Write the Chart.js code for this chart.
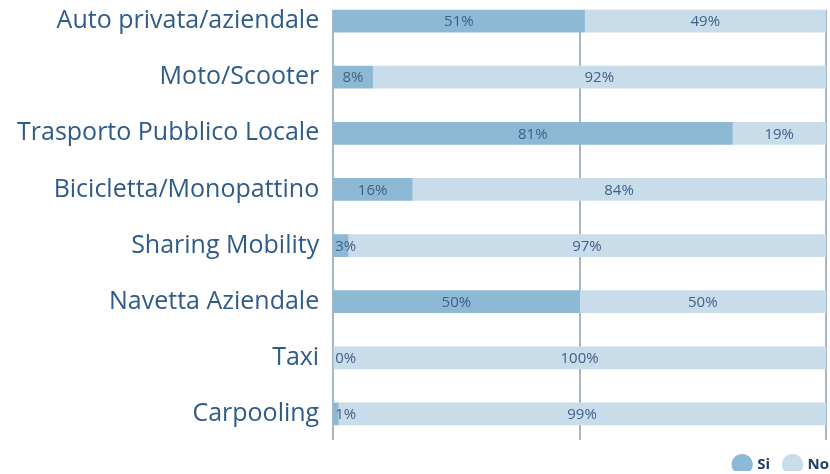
<!DOCTYPE html>
<html>
<head>
<meta charset="utf-8">
<script src="https://cdn.jsdelivr.net/npm/chart.js@4/dist/chart.umd.min.js"></script>
<style>
  html, body { margin: 0; padding: 0; background: #fff; overflow: hidden; }
  #wrap { width: 830px; height: 507px; position: absolute; left: 0; top: -36px; }
</style>
</head>
<body>
<div id="wrap"><canvas id="chart"></canvas></div>
<script>
const categories = [
    'Auto privata/aziendale',
    'Moto/Scooter',
    'Trasporto Pubblico Locale',
    'Bicicletta/Monopattino',
    'Sharing Mobility',
    'Navetta Aziendale',
    'Taxi',
    'Carpooling'
];
const siValues = [51, 8, 81, 16, 3, 50, 0, 1];
const noValues = [49, 92, 19, 84, 97, 50, 100, 99];
const gridTicks = [0, 50, 100];

const textColor = '#2f5b88';
const labelColor = '#3f6089';

// gridlines drawn behind the bars
const gridPlugin = {
    id: 'gridBehind',
    beforeDatasetsDraw(chart) {
        const { ctx, chartArea, scales } = chart;
        ctx.save();
        ctx.strokeStyle = '#a4b6c8';
        ctx.lineWidth = 2;
        gridTicks.forEach(v => {
            const x = Math.round(scales.x.getPixelForValue(v));
            ctx.beginPath();
            ctx.moveTo(x, chartArea.top + 17);
            ctx.lineTo(x, chartArea.bottom - 2);
            ctx.stroke();
        });
        ctx.restore();
    }
};

// percentage labels in the bar segments
const valueLabels = {
    id: 'valueLabels',
    afterDatasetsDraw(chart) {
        const { ctx, chartArea } = chart;
        ctx.save();
        ctx.font = '15px "Open Sans", sans-serif';
        ctx.fillStyle = labelColor;
        ctx.textBaseline = 'middle';
        ctx.textAlign = 'left';
        chart.data.datasets.forEach((ds, di) => {
            const meta = chart.getDatasetMeta(di);
            meta.data.forEach((bar, i) => {
                const txt = ds.data[i] + '%';
                const w = ctx.measureText(txt).width;
                let left = (bar.x + bar.base) / 2 - w / 2;
                if (left < chartArea.left + 2) left = chartArea.left + 2;
                ctx.fillText(txt, left, bar.y + 1);
            });
        });
        ctx.restore();
    }
};

// push the legend flush to the right edge
const legendShift = {
    id: 'legendShift',
    afterLayout(chart) {
        if (chart.legend) {
            chart.legend.left += 18;
            chart.legend.right += 18;
        }
    }
};

new Chart(document.getElementById('chart'), {
    type: 'bar',
    data: {
        labels: categories,
        datasets: [
            {
                label: 'Si',
                data: siValues,
                backgroundColor: '#8db9d5',
                barThickness: 22
            },
            {
                label: 'No',
                data: noValues,
                backgroundColor: '#c9dcea',
                barThickness: 22
            }
        ]
    },
    options: {
        indexAxis: 'y',
        responsive: true,
        maintainAspectRatio: false,
        animation: false,
        layout: {
            padding: { top: -7, bottom: -11, left: 3, right: 4 }
        },
        plugins: {
            legend: {
                position: 'bottom',
                align: 'end',
                labels: {
                    usePointStyle: true,
                    pointStyle: 'circle',
                    boxWidth: 16,
                    boxHeight: 16,
                    padding: 15,
                    color: '#1f3f66',
                    font: { family: '"Open Sans", sans-serif', size: 15, weight: 'bold' }
                }
            },
            tooltip: { enabled: false }
        },
        scales: {
            x: {
                stacked: true,
                min: 0,
                max: 100,
                display: false
            },
            y: {
                stacked: true,
                grid: { display: false, drawTicks: false },
                border: { display: false },
                ticks: {
                    color: textColor,
                    padding: 14,
                    font: { family: '"Open Sans", sans-serif', size: 25 }
                }
            }
        }
    },
    plugins: [gridPlugin, valueLabels, legendShift]
});
</script>
</body>
</html>
